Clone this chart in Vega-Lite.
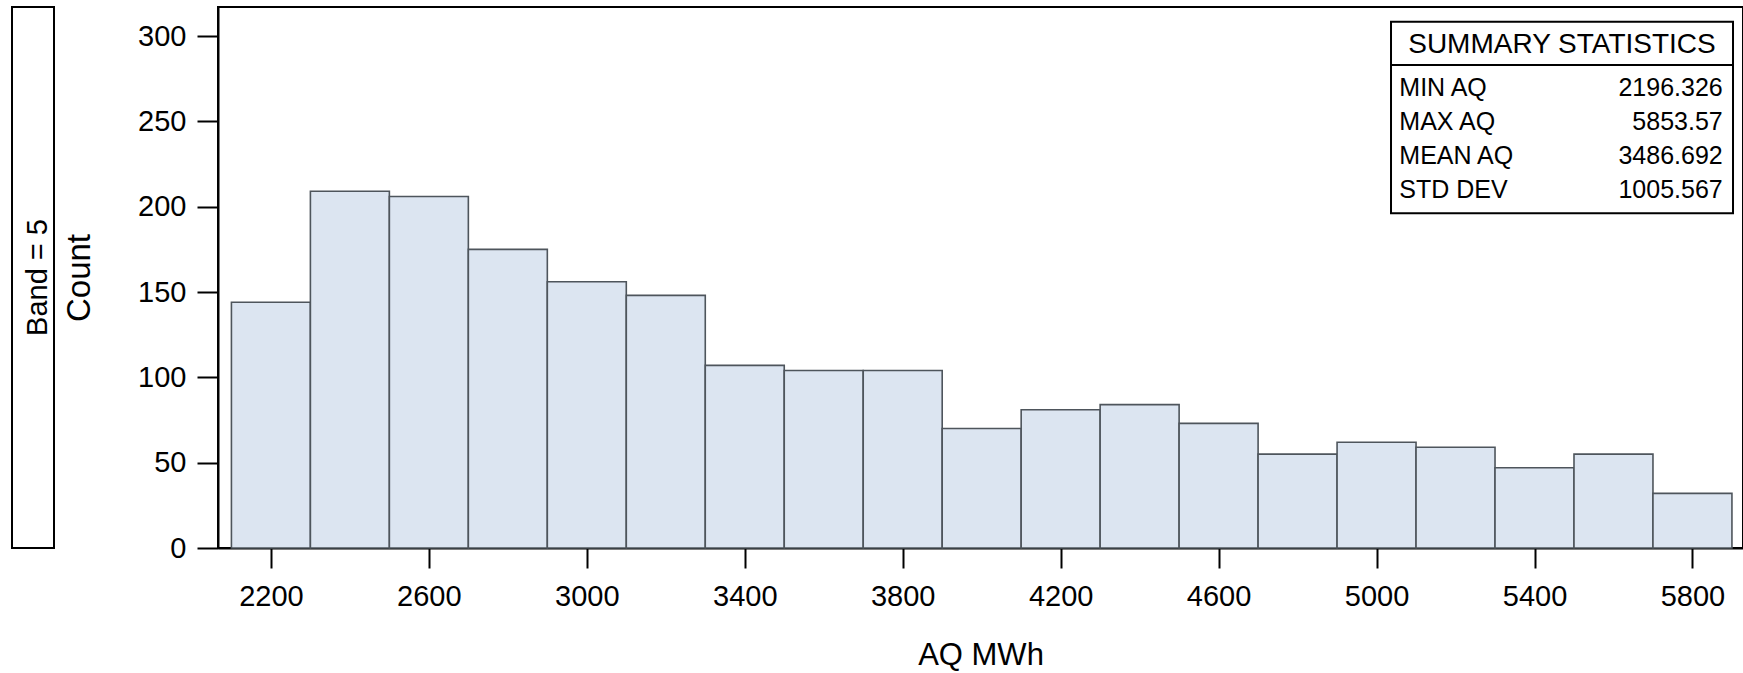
{
  "$schema": "https://vega.github.io/schema/vega-lite/v6.json",
  "padding": {"left": 10, "top": 5, "right": 0, "bottom": 0},
  "autosize": {"type": "pad"},
  "background": "white",
  "bounds": "flush",
  "spacing": 164,
  "config": {
    "font": "Liberation Sans",
    "view": {"stroke": "black", "strokeWidth": 2},
    "axis": {"grid": false, "labelColor": "black", "titleColor": "black", "tickColor": "black", "domainColor": "black", "titleFontWeight": "normal", "tickWidth": 2, "domainWidth": 2}
  },
  "datasets": {
    "hist": [
      {"bin_start": 2100, "bin_end": 2300, "count": 144},
      {"bin_start": 2300, "bin_end": 2500, "count": 209},
      {"bin_start": 2500, "bin_end": 2700, "count": 206},
      {"bin_start": 2700, "bin_end": 2900, "count": 175},
      {"bin_start": 2900, "bin_end": 3100, "count": 156},
      {"bin_start": 3100, "bin_end": 3300, "count": 148},
      {"bin_start": 3300, "bin_end": 3500, "count": 107},
      {"bin_start": 3500, "bin_end": 3700, "count": 104},
      {"bin_start": 3700, "bin_end": 3900, "count": 104},
      {"bin_start": 3900, "bin_end": 4100, "count": 70},
      {"bin_start": 4100, "bin_end": 4300, "count": 81},
      {"bin_start": 4300, "bin_end": 4500, "count": 84},
      {"bin_start": 4500, "bin_end": 4700, "count": 73},
      {"bin_start": 4700, "bin_end": 4900, "count": 55},
      {"bin_start": 4900, "bin_end": 5100, "count": 62},
      {"bin_start": 5100, "bin_end": 5300, "count": 59},
      {"bin_start": 5300, "bin_end": 5500, "count": 47},
      {"bin_start": 5500, "bin_end": 5700, "count": 55},
      {"bin_start": 5700, "bin_end": 5900, "count": 32}
    ],
    "stats": [
      {"stat": "MIN AQ", "value": 2196.326},
      {"stat": "MAX AQ", "value": 5853.57},
      {"stat": "MEAN AQ", "value": 3486.692},
      {"stat": "STD DEV", "value": 1005.567}
    ]
  },
  "hconcat": [
    {
      "width": 42,
      "height": 541,
      "data": {"values": [{"label": "Band = 5"}]},
      "layer": [
        {
          "mark": {"type": "rect", "fill": "white", "stroke": "black", "strokeWidth": 2},
          "encoding": {
            "x": {"datum": 0, "type": "quantitative", "scale": {"domain": [0, 1], "nice": false}, "axis": null},
            "x2": {"datum": 1},
            "y": {"datum": 0, "type": "quantitative", "scale": {"domain": [0, 1], "nice": false}, "axis": null},
            "y2": {"datum": 1}
          }
        },
        {
          "mark": {"type": "text", "angle": 270, "fontSize": 29, "baseline": "middle", "align": "center", "color": "black"},
          "encoding": {
            "x": {"datum": 0.61, "type": "quantitative"},
            "y": {"datum": 0.5, "type": "quantitative"},
            "text": {"field": "label", "type": "nominal"}
          }
        }
      ]
    },
    {
      "width": 1525,
      "height": 541,
      "layer": [
        {
          "data": {"name": "hist"},
          "mark": {"type": "bar", "fill": "#DCE5F1", "stroke": "#4E555C", "strokeWidth": 1.6},
          "encoding": {
            "x": {"field": "bin_start", "type": "quantitative",
                  "scale": {"domain": [2066, 5928], "nice": false, "zero": false},
                  "axis": {"title": "AQ MWh", "values": [2200, 2600, 3000, 3400, 3800, 4200, 4600, 5000, 5400, 5800], "format": "d",
                           "labelFontSize": 29, "titleFontSize": 31, "tickSize": 20, "labelPadding": 14, "titlePadding": 29, "labelFlush": false}},
            "x2": {"field": "bin_end"},
            "y": {"field": "count", "type": "quantitative",
                  "scale": {"domain": [0, 317], "nice": false},
                  "axis": {"title": "Count", "values": [0, 50, 100, 150, 200, 250, 300],
                           "labelFontSize": 29, "titleFontSize": 33, "tickSize": 21, "labelPadding": 11, "titlePadding": 41}},
            "y2": {"datum": 0}
          }
        },
        {
          "data": {"values": [{"title": "SUMMARY STATISTICS"}]},
          "layer": [
            {
              "mark": {"type": "rect", "fill": "white", "stroke": "black", "strokeWidth": 2},
              "encoding": {
                "x": {"datum": 5036.6, "type": "quantitative"},
                "x2": {"datum": 5902.7},
                "y": {"datum": 308.4, "type": "quantitative"},
                "y2": {"datum": 196.1}
              }
            },
            {
              "mark": {"type": "rule", "color": "black", "strokeWidth": 2},
              "encoding": {
                "x": {"datum": 5036.6, "type": "quantitative"},
                "x2": {"datum": 5902.7},
                "y": {"datum": 283.0, "type": "quantitative"}
              }
            },
            {
              "mark": {"type": "text", "fontSize": 28, "align": "center", "baseline": "middle", "color": "black"},
              "encoding": {
                "x": {"datum": 5469.6, "type": "quantitative"},
                "y": {"datum": 294.7, "type": "quantitative"},
                "text": {"field": "title", "type": "nominal"}
              }
            }
          ]
        },
        {
          "data": {"name": "stats"},
          "transform": [{"filter": "datum.stat === 'MIN AQ'"}],
          "encoding": {"y": {"datum": 269.6, "type": "quantitative"}},
          "layer": [
            {"mark": {"type": "text", "fontSize": 25, "align": "left", "baseline": "middle", "color": "black"},
             "encoding": {"x": {"datum": 5057.6, "type": "quantitative"}, "text": {"field": "stat", "type": "nominal"}}},
            {"mark": {"type": "text", "fontSize": 25, "align": "right", "baseline": "middle", "color": "black"},
             "encoding": {"x": {"datum": 5876.6, "type": "quantitative"}, "text": {"field": "value", "type": "nominal"}}}
          ]
        },
        {
          "data": {"name": "stats"},
          "transform": [{"filter": "datum.stat === 'MAX AQ'"}],
          "encoding": {"y": {"datum": 249.6, "type": "quantitative"}},
          "layer": [
            {"mark": {"type": "text", "fontSize": 25, "align": "left", "baseline": "middle", "color": "black"},
             "encoding": {"x": {"datum": 5057.6, "type": "quantitative"}, "text": {"field": "stat", "type": "nominal"}}},
            {"mark": {"type": "text", "fontSize": 25, "align": "right", "baseline": "middle", "color": "black"},
             "encoding": {"x": {"datum": 5876.6, "type": "quantitative"}, "text": {"field": "value", "type": "nominal"}}}
          ]
        },
        {
          "data": {"name": "stats"},
          "transform": [{"filter": "datum.stat === 'MEAN AQ'"}],
          "encoding": {"y": {"datum": 229.6, "type": "quantitative"}},
          "layer": [
            {"mark": {"type": "text", "fontSize": 25, "align": "left", "baseline": "middle", "color": "black"},
             "encoding": {"x": {"datum": 5057.6, "type": "quantitative"}, "text": {"field": "stat", "type": "nominal"}}},
            {"mark": {"type": "text", "fontSize": 25, "align": "right", "baseline": "middle", "color": "black"},
             "encoding": {"x": {"datum": 5876.6, "type": "quantitative"}, "text": {"field": "value", "type": "nominal"}}}
          ]
        },
        {
          "data": {"name": "stats"},
          "transform": [{"filter": "datum.stat === 'STD DEV'"}],
          "encoding": {"y": {"datum": 209.6, "type": "quantitative"}},
          "layer": [
            {"mark": {"type": "text", "fontSize": 25, "align": "left", "baseline": "middle", "color": "black"},
             "encoding": {"x": {"datum": 5057.6, "type": "quantitative"}, "text": {"field": "stat", "type": "nominal"}}},
            {"mark": {"type": "text", "fontSize": 25, "align": "right", "baseline": "middle", "color": "black"},
             "encoding": {"x": {"datum": 5876.6, "type": "quantitative"}, "text": {"field": "value", "type": "nominal"}}}
          ]
        }
      ]
    }
  ]
}
